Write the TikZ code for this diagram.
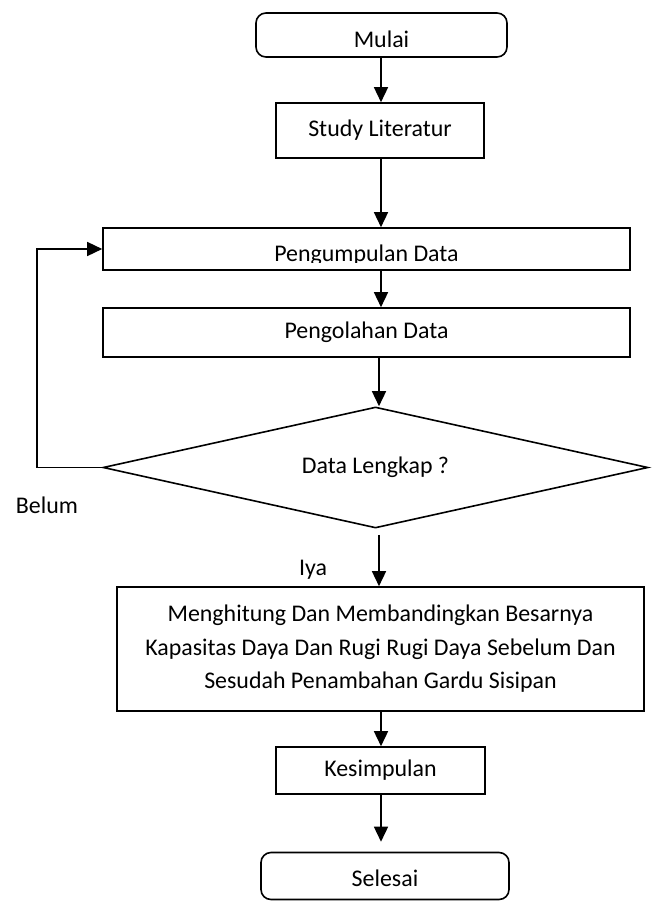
\documentclass[tikz,border=0pt]{standalone}
\usepackage{fontspec}
\setmainfont{Carlito}
\usetikzlibrary{shapes.geometric,arrows.meta}
\tikzset{
  txt/.style={font=\fontsize{23.9}{33.5}\selectfont, inner sep=0pt},
  procbox/.style={draw, line width=1.6pt, inner sep=0pt, txt},
  termbox/.style={draw, line width=1.6pt, rounded corners=10pt, inner sep=0pt, txt},
  decbox/.style={draw, line width=1.6pt, diamond, aspect=4.5, inner sep=0pt, txt},
  arr/.style={line width=1.5pt, -{Triangle[length=15pt,width=14pt]}},
  plain/.style={line width=1.5pt}
}
\begin{document}
\begin{tikzpicture}[x=1pt,y=-1pt]
\useasboundingbox (0,0) rectangle (654,902);
\fill[white] (0,0) rectangle (654,902);
\coordinate (axis) at (381,0);
\coordinate (axisb) at (379,0);
% nodes
\node[termbox, minimum width=251pt, minimum height=44pt] (mulai) at (381.5,35) {};
\node[txt] (mulaitext) at (381.5,39) {Mulai};
\node[procbox, minimum width=208pt, minimum height=55pt] (study) at (380,130.5) {Study Literatur};
\node[procbox, minimum width=527pt, minimum height=42pt] (kumpul) at (366.5,249) {};
\begin{scope}
  \clip (104,229) rectangle (629,262.5);
  \node[txt, anchor=base] (kumpultext) at (366.5,261) {Pengumpulan Data};
\end{scope}
\node[procbox, minimum width=527pt, minimum height=49pt] (olah) at (366.5,332.5) {Pengolahan Data};
\node[decbox, minimum width=545pt, minimum height=121pt] (dec) at (375.5,467.5) {Data Lengkap ?};
\node[procbox, minimum width=527pt, minimum height=124pt, align=center] (hitung) at (380.5,649)
  {Menghitung Dan Membandingkan Besarnya\\Kapasitas Daya Dan Rugi Rugi Daya Sebelum Dan\\Sesudah Penambahan Gardu Sisipan};
\node[procbox, minimum width=209pt, minimum height=47pt] (simpul) at (380.5,770.5) {Kesimpulan};
\node[termbox, minimum width=248pt, minimum height=47pt] (selesai) at (385,876) {};
\node[txt] (selesaitext) at (385,878) {Selesai};
\node[txt] (belum) at (47,505) {Belum};
\node[txt] (iya) at (313,570) {Iya};
\coordinate (loopc) at (37,467.5);
% connectors
\draw[arr] (mulai.south -| axis) -- (study.north -| axis);
\draw[arr] (study.south -| axis) -- (kumpul.north -| axis);
\draw[arr] (kumpul.south -| axis) -- (olah.north -| axis);
\draw[arr] (olah.south -| axisb) -- (dec.north -| axisb);
\draw[arr] ([yshift=-6pt]dec.south -| axisb) -- (hitung.north -| axisb);
\draw[arr] (hitung.south -| axis) -- (simpul.north -| axis);
\draw[arr] (simpul.south -| axis) -- ([yshift=10pt]selesai.north -| axis);
\draw[arr] (dec.west) -- (loopc) |- (kumpul.west);
\end{tikzpicture}
\end{document}
